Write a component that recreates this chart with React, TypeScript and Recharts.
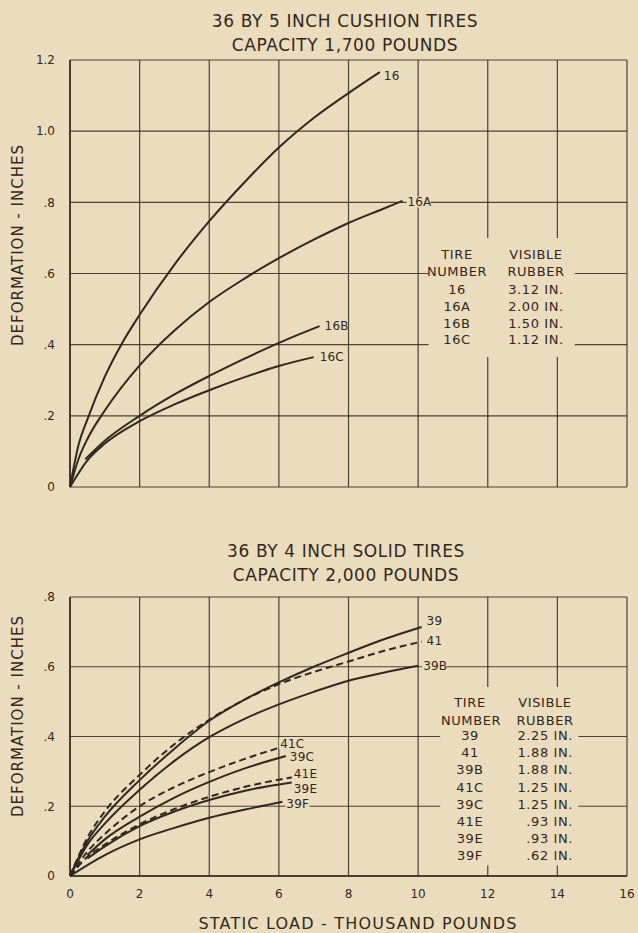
import React from "react";
import {
  LineChart,
  Line,
  XAxis,
  YAxis,
  CartesianGrid,
  ReferenceArea,
} from "recharts";

const BG = "#ebdcbd";
const INK = "#30271e";
const FONT = "'DejaVu Sans', sans-serif";

// load in thousand pounds, deformation in inches
const xTicks = [0, 2, 4, 6, 8, 10, 12, 14, 16];
const yTicksTop = [0, 0.2, 0.4, 0.6, 0.8, 1.0, 1.2];
const yTicksBottom = [0, 0.2, 0.4, 0.6, 0.8];

// 36 x 5 cushion tires
const load16 = [0, 0.25, 0.5, 1, 1.5, 2, 3, 4, 5, 6, 7, 8, 8.9];
const def16 = [0, 0.12, 0.19, 0.31, 0.405, 0.484, 0.625, 0.747, 0.855, 0.954, 1.037, 1.107, 1.166];
const load16A = [0, 0.25, 0.5, 1, 2, 3, 4, 5, 6, 7, 8, 9, 9.55];
const def16A = [0, 0.08, 0.135, 0.215, 0.342, 0.44, 0.52, 0.585, 0.643, 0.695, 0.742, 0.782, 0.804];
const load16B = [0.44, 1, 2, 3, 4, 5, 6, 7.17];
const def16B = [0.078, 0.13, 0.2, 0.26, 0.312, 0.36, 0.405, 0.452];
const load16C = [0, 0.5, 1, 2, 3, 4, 5, 6, 7];
const def16C = [0, 0.075, 0.122, 0.185, 0.232, 0.272, 0.308, 0.34, 0.365];

// 36 x 4 solid tires
const load39 = [0, 0.5, 1, 2, 3, 4, 5, 6, 7, 8, 9, 10.1];
const def39 = [0, 0.1, 0.17, 0.275, 0.365, 0.445, 0.505, 0.555, 0.6, 0.64, 0.678, 0.714];
const load41 = [0, 0.5, 1, 2, 3, 4, 5, 6, 7, 8, 9, 10.1];
const def41 = [0, 0.11, 0.185, 0.29, 0.378, 0.448, 0.505, 0.55, 0.585, 0.615, 0.645, 0.672];
const load39B = [0, 0.5, 1, 2, 3, 4, 5, 6, 7, 8, 9, 10];
const def39B = [0, 0.09, 0.15, 0.247, 0.33, 0.398, 0.45, 0.492, 0.528, 0.56, 0.583, 0.603];
const load41C = [0, 0.5, 1, 2, 3, 4, 5, 5.95];
const def41C = [0, 0.07, 0.12, 0.2, 0.255, 0.298, 0.335, 0.366];
const load39C = [0.5, 1, 2, 3, 4, 5, 6.2];
const def39C = [0.06, 0.105, 0.17, 0.225, 0.27, 0.308, 0.344];
const load41E = [0, 0.5, 1, 2, 3, 4, 5, 6.37];
const def41E = [0, 0.055, 0.09, 0.148, 0.192, 0.227, 0.255, 0.283];
const load39E = [0.5, 1, 2, 3, 4, 5, 6.37];
const def39E = [0.05, 0.085, 0.143, 0.185, 0.218, 0.244, 0.268];
const load39F = [0, 1, 2, 3, 4, 5, 6.1];
const def39F = [0, 0.06, 0.105, 0.138, 0.167, 0.19, 0.213];

// legend tables
const tires16 = ["16", "16A", "16B", "16C"];
const rubber16 = ["3.12 IN.", "2.00 IN.", "1.50 IN.", "1.12 IN."];
const tires39 = ["39", "41", "39B", "41C", "39C", "41E", "39E", "39F"];
const rubber39 = ["2.25 IN.", "1.88 IN.", "1.88 IN.", "1.25 IN.", "1.25 IN.", ".93 IN.", ".93 IN.", ".62 IN."];

const zip = (xs: number[], ys: number[]) => xs.map((x, i) => ({ x, y: ys[i] }));

type Series = { name: string; points: { x: number; y: number }[]; dashed?: boolean; dx: number; dy: number };

const topSeries: Series[] = [
  { name: "16", points: zip(load16, def16), dx: 4, dy: 4 },
  { name: "16A", points: zip(load16A, def16A), dx: 5, dy: 1 },
  { name: "16B", points: zip(load16B, def16B), dx: 5, dy: 0 },
  { name: "16C", points: zip(load16C, def16C), dx: 6, dy: 0 },
];

const bottomSeries: Series[] = [
  { name: "39", points: zip(load39, def39), dx: 5, dy: -6 },
  { name: "41", points: zip(load41, def41), dashed: true, dx: 5, dy: -1 },
  { name: "39B", points: zip(load39B, def39B), dx: 5, dy: 0 },
  { name: "41C", points: zip(load41C, def41C), dashed: true, dx: 3, dy: -5 },
  { name: "39C", points: zip(load39C, def39C), dx: 4, dy: 1 },
  { name: "41E", points: zip(load41E, def41E), dashed: true, dx: 2, dy: -4 },
  { name: "39E", points: zip(load39E, def39E), dx: 2, dy: 6 },
  { name: "39F", points: zip(load39F, def39F), dx: 4, dy: 2 },
];

const fmtY = (v: number) => (v === 0 ? "0" : v >= 1 ? v.toFixed(1) : v.toFixed(1).slice(1));

const endLabel = (s: Series) => (props: any) => {
  const { x, y, index } = props;
  if (index !== s.points.length - 1) return null;
  const w = s.name.length * 7.4 + 2;
  const tx = x + s.dx;
  const ty = y + s.dy;
  return (
    <g>
      <rect x={tx - 1} y={ty - 5.5} width={w} height={11} fill={BG} />
      <text x={tx} y={ty + 4.3} fontSize={12} fontFamily={FONT} fill={INK} letterSpacing={0.2}>
        {s.name}
      </text>
    </g>
  );
};

function Chart({
  series,
  yTicks,
  yMax,
  height,
  top,
  showX,
  table,
}: {
  series: Series[];
  yTicks: number[];
  yMax: number;
  height: number;
  top: number;
  showX: boolean;
  table: { x1: number; x2: number; y1: number; y2: number };
}) {
  return (
    <div style={{ position: "absolute", left: 0, top }}>
      <LineChart
        width={638}
        height={height}
        margin={{ top: 57, right: 11, bottom: showX ? 33 : 16, left: 30 }}
      >
        <CartesianGrid stroke={INK} strokeWidth={1.2} strokeOpacity={0.85} />
        <XAxis
          type="number"
          dataKey="x"
          domain={[0, 16]}
          ticks={xTicks}
          interval={0}
          hide={!showX}
          height={24}
          tickLine={false}
          axisLine={{ stroke: INK, strokeWidth: 1.5 }}
          tickSize={6}
          tickMargin={7}
          tick={{ fill: INK, fontSize: 12, fontFamily: FONT }}
        />
        <YAxis
          type="number"
          dataKey="y"
          domain={[0, yMax]}
          ticks={yTicks}
          interval={0}
          width={40}
          tickLine={false}
          axisLine={{ stroke: INK, strokeWidth: 1.5 }}
          tickSize={6}
          tickMargin={9}
          tickFormatter={fmtY}
          tick={{ fill: INK, fontSize: 12, fontFamily: FONT }}
        />
        <ReferenceArea
          x1={table.x1}
          x2={table.x2}
          y1={table.y1}
          y2={table.y2}
          fill={BG}
          fillOpacity={1}
          stroke="none"
        />
        {series.map((s) => (
          <Line
            key={s.name}
            data={s.points}
            dataKey="y"
            type="monotone"
            stroke={INK}
            strokeWidth={2}
            strokeDasharray={s.dashed ? "7 4" : undefined}
            dot={false}
            activeDot={false}
            isAnimationActive={false}
            label={endLabel(s)}
          />
        ))}
      </LineChart>
    </div>
  );
}

const txt = { fontFamily: FONT, fill: INK } as const;

export default function App() {
  return (
    <div
      style={{
        position: "absolute",
        left: 0,
        top: 0,
        width: 638,
        height: 933,
        background: BG,
        overflow: "hidden",
      }}
    >
      <Chart
        series={topSeries}
        yTicks={yTicksTop}
        yMax={1.2}
        height={500}
        top={3}
        showX={false}
        table={{ x1: 10.3, x2: 14.5, y1: 0.365, y2: 0.7 }}
      />
      <Chart
        series={bottomSeries}
        yTicks={yTicksBottom}
        yMax={0.8}
        height={393}
        top={540}
        showX={true}
        table={{ x1: 10.63, x2: 14.6, y1: 0.03, y2: 0.542 }}
      />
      <svg
        width={638}
        height={933}
        style={{ position: "absolute", left: 0, top: 0, pointerEvents: "none" }}
      >
        <g {...txt} fontSize={17} letterSpacing={0.6} textAnchor="middle">
          <text x={345} y={27}>36 BY 5 INCH CUSHION TIRES</text>
          <text x={345} y={50.5}>CAPACITY 1,700 POUNDS</text>
          <text x={346} y={557}>36 BY 4 INCH SOLID TIRES</text>
          <text x={346} y={581}>CAPACITY 2,000 POUNDS</text>
        </g>
        <g {...txt} fontSize={15} letterSpacing={1} textAnchor="middle">
          <text transform="translate(23 245) rotate(-90)">DEFORMATION - INCHES</text>
          <text transform="translate(23 716) rotate(-90)">DEFORMATION - INCHES</text>
        </g>
        <text {...txt} x={358} y={929} fontSize={16} letterSpacing={1.2} textAnchor="middle">
          STATIC LOAD - THOUSAND POUNDS
        </text>
        <g {...txt} fontSize={13} letterSpacing={0.6} textAnchor="middle">
          <text x={457} y={259}>TIRE</text>
          <text x={536} y={259}>VISIBLE</text>
          <text x={457} y={276}>NUMBER</text>
          <text x={536} y={276}>RUBBER</text>
          {tires16.map((t, i) => (
            <text key={t} x={457} y={294 + i * 16.8}>{t}</text>
          ))}
          {rubber16.map((r, i) => (
            <text key={i} x={536} y={294 + i * 16.8}>{r}</text>
          ))}
          <text x={470} y={707}>TIRE</text>
          <text x={545} y={707}>VISIBLE</text>
          <text x={471} y={725}>NUMBER</text>
          <text x={545} y={725}>RUBBER</text>
          {tires39.map((t, i) => (
            <text key={t} x={470} y={740 + i * 17.2}>{t}</text>
          ))}
        </g>
        <g {...txt} fontSize={13} letterSpacing={0.6} textAnchor="end">
          {rubber39.map((r, i) => (
            <text key={i} x={573} y={740 + i * 17.2}>{r}</text>
          ))}
        </g>
      </svg>
    </div>
  );
}
